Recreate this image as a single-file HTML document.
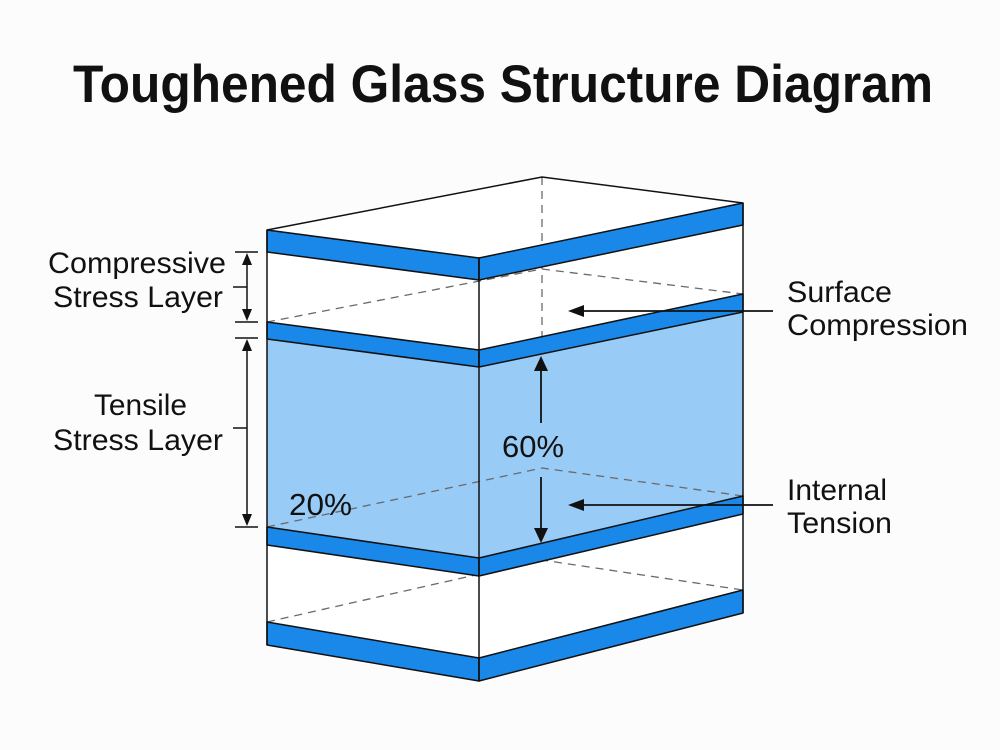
<!DOCTYPE html>
<html>
<head>
<meta charset="utf-8">
<style>
  html,body{margin:0;padding:0;background:#fcfcfc;}
  svg{display:block;}
  text{font-family:"Liberation Sans", Arial, sans-serif; fill:#111;}
</style>
</head>
<body>
<svg width="1000" height="750" viewBox="0 0 1000 750" xmlns="http://www.w3.org/2000/svg">
  <rect x="0" y="0" width="1000" height="750" fill="#fcfcfc"/>

  <!-- Title -->
  <text x="73" y="102" font-size="53" font-weight="bold" textLength="860" lengthAdjust="spacingAndGlyphs">Toughened Glass Structure Diagram</text>

  <!-- body white -->
  <polygon points="267,230 542,177 743,203 743,613 479,681 267,645" fill="#ffffff"/>

  <!-- light blue tensile region -->
  <polygon points="267,339 479,367 479,558 267,527" fill="#98cbf6"/>
  <polygon points="479,367 743,312 743,496 479,558" fill="#98cbf6"/>

  <!-- dashed hidden lines -->
  <g stroke="#6a6a6a" stroke-width="1.3" stroke-dasharray="8 6" fill="none">
    <line x1="542" y1="177" x2="542" y2="337"/>
    <polyline points="267,322 542,269 743,294"/>
    <polyline points="267,527 542,468 743,496"/>
    <polyline points="267,622 542,560 743,590"/>
  </g>

  <!-- bands -->
  <g fill="#1a88e8" stroke="#111" stroke-width="1.5" stroke-linejoin="round">
    <polygon points="267,230 479,258 479,280 267,252"/>
    <polygon points="479,258 743,203 743,225 479,280"/>
    <polygon points="267,322 479,350 479,367 267,339"/>
    <polygon points="479,350 743,294 743,312 479,367"/>
    <polygon points="267,527 479,558 479,576 267,545"/>
    <polygon points="479,558 743,496 743,514 479,576"/>
    <polygon points="267,622 479,658 479,681 267,645"/>
    <polygon points="479,658 743,590 743,613 479,681"/>
  </g>

  <!-- solid edges -->
  <g stroke="#111" stroke-width="1.5" fill="none">
    <polyline points="267,230 542,177 743,203"/>
    <line x1="267" y1="230" x2="267" y2="645"/>
    <line x1="479" y1="258" x2="479" y2="681"/>
    <line x1="743" y1="203" x2="743" y2="613"/>
  </g>

  <!-- left brackets -->
  <g stroke="#111" stroke-width="1.5" fill="none">
    <line x1="235" y1="252" x2="258" y2="252"/>
    <line x1="235" y1="322" x2="258" y2="322"/>
    <line x1="233" y1="287" x2="247" y2="287"/>
    <line x1="247" y1="262" x2="247" y2="312"/>
    <line x1="235" y1="338" x2="258" y2="338"/>
    <line x1="235" y1="527" x2="258" y2="527"/>
    <line x1="233" y1="428" x2="247" y2="428"/>
    <line x1="247" y1="348" x2="247" y2="517"/>
  </g>
  <g fill="#111">
    <polygon points="247,253 242,265 252,265"/>
    <polygon points="247,321 242,309 252,309"/>
    <polygon points="247,339 242,351 252,351"/>
    <polygon points="247,526 242,514 252,514"/>
  </g>

  <!-- arrows -->
  <g stroke="#111" stroke-width="1.8" fill="none">
    <line x1="541" y1="368" x2="541" y2="423"/>
    <line x1="541" y1="477" x2="541" y2="531"/>
    <line x1="582" y1="311" x2="773" y2="311"/>
    <line x1="582" y1="505" x2="773" y2="505"/>
  </g>
  <g fill="#111">
    <polygon points="541,356 534,371 548,371"/>
    <polygon points="541,543 534,528 548,528"/>
    <polygon points="568,311 584,305 584,317"/>
    <polygon points="568,505 584,499 584,511"/>
  </g>

  <!-- labels -->
  <g font-size="30">
    <text x="48" y="273" textLength="178" lengthAdjust="spacingAndGlyphs">Compressive</text>
    <text x="53" y="307" textLength="170" lengthAdjust="spacingAndGlyphs">Stress Layer</text>
    <text x="94" y="415" textLength="93" lengthAdjust="spacingAndGlyphs">Tensile</text>
    <text x="53" y="450" textLength="170" lengthAdjust="spacingAndGlyphs">Stress Layer</text>

    <text x="787" y="302" textLength="105" lengthAdjust="spacingAndGlyphs">Surface</text>
    <text x="787" y="335" textLength="181" lengthAdjust="spacingAndGlyphs">Compression</text>
    <text x="787" y="500" textLength="100" lengthAdjust="spacingAndGlyphs">Internal</text>
    <text x="787" y="533" textLength="105" lengthAdjust="spacingAndGlyphs">Tension</text>
  </g>
  <text x="502" y="457" font-size="31" textLength="62" lengthAdjust="spacingAndGlyphs">60%</text>
  <text x="289" y="515" font-size="31" textLength="63" lengthAdjust="spacingAndGlyphs">20%</text>
</svg>
</body>
</html>
